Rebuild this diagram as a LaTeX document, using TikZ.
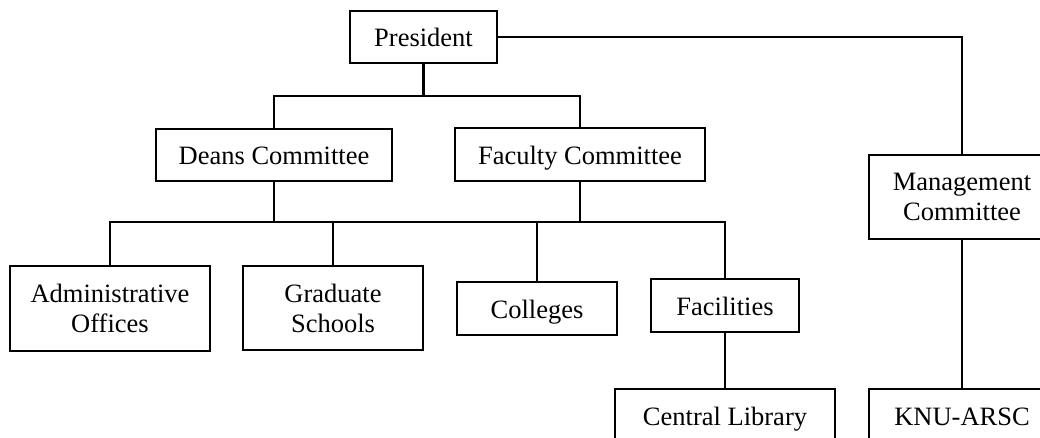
\documentclass[tikz,border=0pt]{standalone}
\usepackage{fontspec}
\setmainfont{Liberation Serif}
\tikzset{
  unit/.style={draw, line width=1.4pt, inner sep=0pt, align=center,
    font=\fontsize{26.5}{30}\selectfont},
  single/.style={unit, text height=22pt, text depth=2pt},
  tree/.style={line width=2.4pt},
  link/.style={line width=1.8pt}
}
\begin{document}
\begin{tikzpicture}[x=1pt, y=-1pt]
  \useasboundingbox (0,0) rectangle (1040,438);
  \clip (0,0) rectangle (1040,438);

  % top level
  \node[single, minimum width=147pt, minimum height=52pt] (pres) at (423.5,37) {President};

  % committees
  \node[single, minimum width=236pt, minimum height=52pt] (deans)   at (274,155)   {Deans Committee};
  \node[single, minimum width=250pt, minimum height=53pt] (faculty) at (580,154.5) {Faculty Committee};
  \node[unit, minimum width=186pt, minimum height=84pt]   (mgmt)    at (962,197)   {Management\\Committee};

  % units
  \node[unit, minimum width=200pt, minimum height=85pt]   (admin)    at (110,308.5) {Administrative\\Offices};
  \node[unit, minimum width=180pt, minimum height=84pt]   (grad)     at (333,308)   {Graduate\\Schools};
  \node[single, minimum width=160pt, minimum height=53pt] (colleges) at (537,308.5) {Colleges};
  \node[single, minimum width=148pt, minimum height=53pt] (facil)    at (725,305.5) {Facilities};

  % bottom row (cut by the page edge)
  \node[single, minimum width=220pt, minimum height=53pt] (lib) at (725,415.5) {Central Library};
  \node[single, minimum width=186pt, minimum height=53pt] (knu) at (962,415.5) {KNU-ARSC};

  % junctions
  \coordinate (pj) at (423.5,96);
  \coordinate (dj) at (274,222);

  % president to committees
  \draw[tree] (pres.south) -- (pj);
  \draw[tree] (deans.north) |- (faculty.north |- pj) -- (faculty.north);
  \draw[link] (pres.east) -| (mgmt.north);
  \draw[link] (mgmt.south) -- (knu.north);

  % committees to units
  \draw[tree] (deans.south) -- (dj);
  \draw[tree] (faculty.south) -- (faculty.south |- dj);
  \draw[tree] (admin.north) |- (facil.north |- dj) -- (facil.north);
  \draw[tree] (grad.north) -- (grad.north |- dj);
  \draw[tree] (colleges.north) -- (colleges.north |- dj);
  \draw[link] (facil.south) -- (lib.north);
\end{tikzpicture}
\end{document}
